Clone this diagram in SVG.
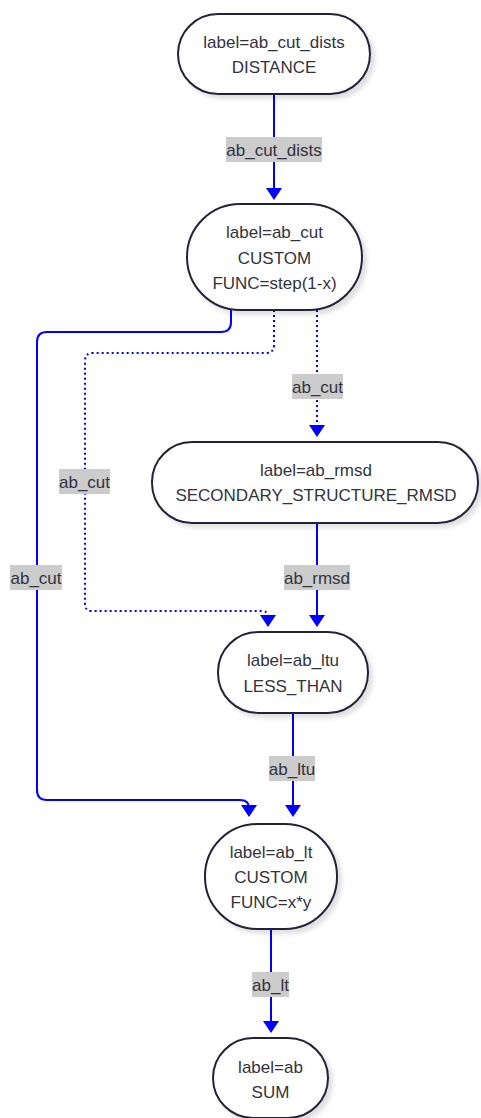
<svg xmlns="http://www.w3.org/2000/svg" width="481" height="1118" viewBox="0 0 481 1118">
  <style>
    .node rect { fill: #ffffff; stroke: #23233a; stroke-width: 2; filter: url(#shadow); }
    .node text, .elabel text { font-family: "Liberation Sans", Arial, sans-serif; font-size: 17px; fill: #333340; text-anchor: middle; dominant-baseline: central; }
    .edge { fill: none; stroke: #0000ff; stroke-width: 2; marker-end: url(#arrow); }
    .dotted { stroke-dasharray: 2 3; }
    .elabel rect { fill: #cccccc; }
  </style>
  <defs>
    <marker id="arrow" viewBox="0 0 12 16" refX="10" refY="8" markerWidth="12" markerHeight="16" markerUnits="userSpaceOnUse" orient="auto">
      <path d="M0 0 L12 8 L0 16 Z" fill="#0000ff"/>
    </marker>
    <filter id="shadow" x="-20%" y="-20%" width="140%" height="150%">
      <feDropShadow dx="4" dy="4" stdDeviation="2" flood-color="#000000" flood-opacity="0.12"/>
    </filter>
  </defs>

  <rect width="481" height="1118" fill="#ffffff"/>

  <!-- connectors -->
  <g id="connectors">
    <path class="edge" d="M274 94 V198"/>
    <path class="edge" d="M231 310 V322 Q231 332 221 332 H47 Q37 332 37 342 V790 Q37 800 47 800 H240 Q249 800 249 808 V815"/>
    <path class="edge dotted" d="M274 310 V345 Q274 353 266 353 H93 Q85 353 85 361 V604 Q85 611 92 611 H262 Q268 611 268 617 V625"/>
    <path class="edge dotted" d="M317 310 V435"/>
    <path class="edge" d="M317 523 V625"/>
    <path class="edge" d="M293 713 V815"/>
    <path class="edge" d="M271 929 V1031"/>

    <g class="elabel">
      <rect x="226" y="137" width="96" height="25"/>
      <text x="274" y="150">ab_cut_dists</text>
      <rect x="10" y="565" width="52" height="25"/>
      <text x="36" y="578">ab_cut</text>
      <rect x="59" y="469" width="51" height="25"/>
      <text x="84.5" y="482">ab_cut</text>
      <rect x="292" y="374" width="51" height="25"/>
      <text x="317.5" y="387">ab_cut</text>
      <rect x="284" y="565" width="66" height="25"/>
      <text x="317" y="578">ab_rmsd</text>
      <rect x="269" y="756" width="46" height="25"/>
      <text x="292" y="769">ab_ltu</text>
      <rect x="252" y="972" width="37" height="25"/>
      <text x="270.5" y="985">ab_lt</text>
    </g>
  </g>

  <!-- nodes -->
  <g id="ab_cut_dists" class="node">
    <rect x="178" y="14" width="192" height="80" rx="40"/>
    <text x="274" y="42">label=ab_cut_dists</text>
    <text x="274" y="67">DISTANCE</text>
  </g>

  <g id="ab_cut" class="node">
    <rect x="187" y="204" width="175" height="106" rx="53"/>
    <text x="274.5" y="232">label=ab_cut</text>
    <text x="274.5" y="258">CUSTOM</text>
    <text x="274.5" y="283">FUNC=step(1-x)</text>
  </g>

  <g id="ab_rmsd" class="node">
    <rect x="152" y="442" width="326" height="81" rx="40"/>
    <text x="316" y="470">label=ab_rmsd</text>
    <text x="316" y="495">SECONDARY_STRUCTURE_RMSD</text>
  </g>

  <g id="ab_ltu" class="node">
    <rect x="218" y="632" width="150" height="81" rx="40"/>
    <text x="293" y="660">label=ab_ltu</text>
    <text x="293" y="686">LESS_THAN</text>
  </g>

  <g id="ab_lt" class="node">
    <rect x="205" y="824" width="132" height="105" rx="52"/>
    <text x="271" y="852">label=ab_lt</text>
    <text x="271" y="877">CUSTOM</text>
    <text x="271" y="902">FUNC=x*y</text>
  </g>

  <g id="ab" class="node">
    <rect x="213" y="1038" width="115" height="80" rx="40"/>
    <text x="270.5" y="1067">label=ab</text>
    <text x="270.5" y="1092">SUM</text>
  </g>
</svg>
